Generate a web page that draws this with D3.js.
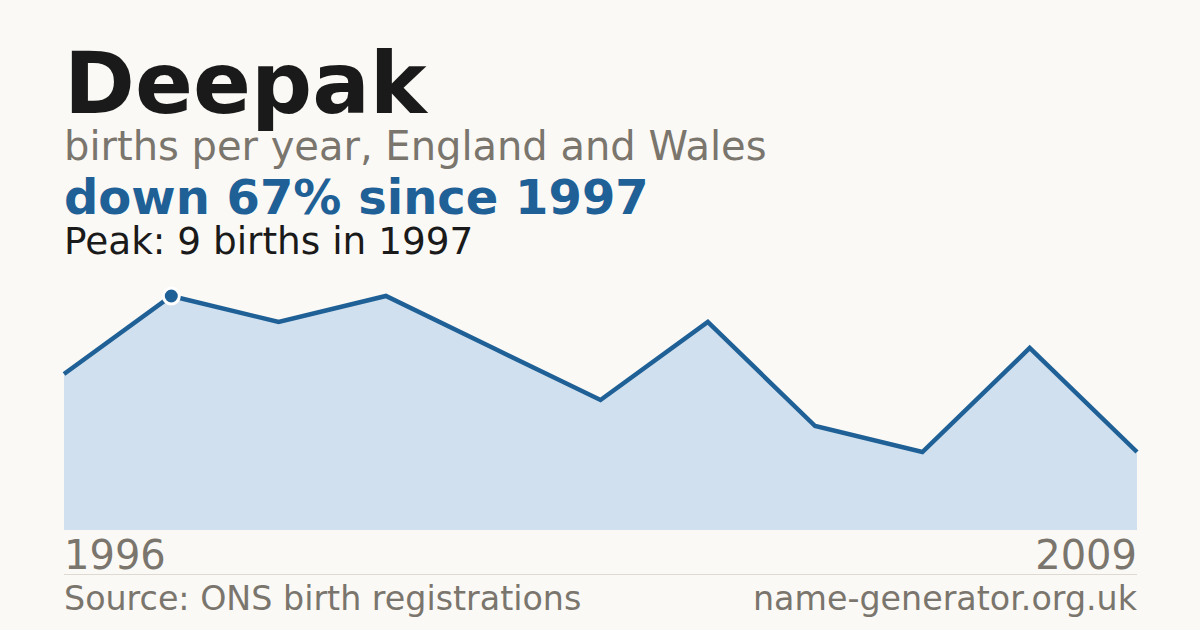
<!DOCTYPE html>
<html>
<head>
<meta charset="utf-8">
<script src="https://cdn.jsdelivr.net/npm/d3@7"></script>
<style>
  html, body { margin: 0; padding: 0; background: #faf9f5; }
  svg { display: block; font-family: "DejaVu Sans", sans-serif; }
</style>
</head>
<body>
<div id="chart"></div>
<script>
// data
const years = [1996, 1997, 1998, 1999, 2000, 2001, 2003, 2004, 2005, 2007, 2009];
const births = [6, 9, 8, 9, 7, 5, 8, 4, 3, 7, 3];
const firstLabel = '1996';
const lastLabel = '2009';

const W = 1200, H = 630;
const left = 64, right = 1137;
const baseY = 530, topY = 296;

const blue = '#1f6096';
const grey = '#7a756d';

let svg = d3.select('#chart').append('svg')
    .attr('width', W)
    .attr('height', H);

svg.append('rect')
    .attr('width', W).attr('height', H)
    .attr('fill', '#faf9f5');

// * HEADER * //
svg.append('text')
    .text('Deepak')
    .attr('x', left).attr('y', 113)
    .attr('font-size', 85.5).attr('font-weight', 'bold')
    .attr('fill', '#1a1a1a');

svg.append('text')
    .text('births per year, England and Wales')
    .attr('x', left).attr('y', 160)
    .attr('font-size', 40)
    .attr('fill', grey);

let peakIdx = d3.maxIndex(births);
let last = births[births.length - 1];
let pct = Math.round((1 - last / births[peakIdx]) * 100);

svg.append('text')
    .text('down ' + pct + '% since ' + years[peakIdx])
    .attr('x', left).attr('y', 214)
    .attr('font-size', 48).attr('font-weight', 'bold')
    .attr('fill', blue);

svg.append('text')
    .text('Peak: ' + births[peakIdx] + ' births in ' + years[peakIdx])
    .attr('x', left).attr('y', 254)
    .attr('font-size', 37.4)
    .attr('fill', '#1a1a1a');

// * CHART * //
let x = d3.scaleLinear()
    .domain([0, births.length - 1])
    .range([left, right]);

let y = d3.scaleLinear()
    .domain([0, d3.max(births)])
    .range([baseY, topY]);

let area = d3.area()
    .x((d, i) => x(i))
    .y0(baseY)
    .y1(d => y(d));

let line = d3.line()
    .x((d, i) => x(i))
    .y(d => y(d));

svg.append('path')
    .datum(births)
    .attr('d', area)
    .attr('fill', '#d0e0ef');

svg.append('path')
    .datum(births)
    .attr('d', line)
    .attr('fill', 'none')
    .attr('stroke', blue)
    .attr('stroke-width', 4.5)
    .attr('stroke-linejoin', 'miter');

svg.append('circle')
    .attr('cx', x(peakIdx))
    .attr('cy', y(births[peakIdx]))
    .attr('r', 8)
    .attr('fill', blue)
    .attr('stroke', '#ffffff')
    .attr('stroke-width', 3);

// * FOOTER * //
svg.append('text')
    .text(firstLabel)
    .attr('x', left).attr('y', 569)
    .attr('font-size', 40)
    .attr('fill', grey);

svg.append('text')
    .text(lastLabel)
    .attr('x', right).attr('y', 569)
    .attr('text-anchor', 'end')
    .attr('font-size', 40)
    .attr('fill', grey);

svg.append('line')
    .attr('x1', left).attr('x2', right)
    .attr('y1', 574.5).attr('y2', 574.5)
    .attr('stroke', '#dedad2')
    .attr('stroke-width', 1);

svg.append('text')
    .text('Source: ONS birth registrations')
    .attr('x', left).attr('y', 610)
    .attr('font-size', 33.3)
    .attr('fill', grey);

svg.append('text')
    .text('name-generator.org.uk')
    .attr('x', right).attr('y', 610)
    .attr('text-anchor', 'end')
    .attr('font-size', 33.3)
    .attr('fill', grey);
</script>
</body>
</html>
